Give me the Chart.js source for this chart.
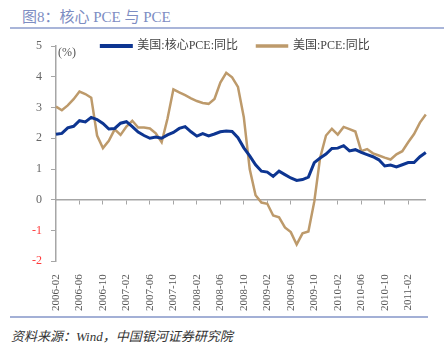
<!DOCTYPE html>
<html>
<head>
<meta charset="utf-8">
<script src="https://cdn.jsdelivr.net/npm/chart.js@4/dist/chart.umd.min.js"></script>
<style>
  body { margin: 0; width: 444px; height: 350px; background: #fff; position: relative; overflow: hidden; }
  #title { position: absolute; left: 22px; top: 5px; font: 15px "Liberation Serif", "Noto Sans CJK SC"; color: #7d8dc2; }
  #titleLine { position: absolute; left: 10px; top: 27px; width: 434px; height: 2px; background: #a9b5d9; }
  #wrap { position: absolute; left: 0; top: 21px; width: 444px; height: 295px; }
  #pct { position: absolute; left: 58px; top: 45px; font: 12px "Liberation Serif"; color: #555; }
  #bottomLine { position: absolute; left: 10px; top: 316px; width: 418px; height: 2px; background: #a3b0d6; }
  #source { position: absolute; left: 11px; top: 326px; font: italic 13px "Liberation Serif", "Noto Sans CJK SC"; color: #333; }
</style>
</head>
<body>
<div id="title">图8：核心 PCE 与 PCE</div>
<div id="titleLine"></div>
<div id="wrap"><canvas id="pceChart"></canvas></div>
<div id="pct">(%)</div>
<div id="bottomLine"></div>
<div id="source">资料来源：Wind，中国银河证券研究院</div>
<script>
const months = [
  "2006-02", "2006-03", "2006-04", "2006-05", "2006-06", "2006-07", "2006-08", "2006-09", "2006-10", "2006-11", "2006-12",
  "2007-01", "2007-02", "2007-03", "2007-04", "2007-05", "2007-06", "2007-07", "2007-08", "2007-09", "2007-10", "2007-11", "2007-12",
  "2008-01", "2008-02", "2008-03", "2008-04", "2008-05", "2008-06", "2008-07", "2008-08", "2008-09", "2008-10", "2008-11", "2008-12",
  "2009-01", "2009-02", "2009-03", "2009-04", "2009-05", "2009-06", "2009-07", "2009-08", "2009-09", "2009-10", "2009-11", "2009-12",
  "2010-01", "2010-02", "2010-03", "2010-04", "2010-05", "2010-06", "2010-07", "2010-08", "2010-09", "2010-10", "2010-11", "2010-12",
  "2011-01", "2011-02", "2011-03", "2011-04", "2011-05"
];

// 美国:核心PCE:同比
const corePce = [
  2.13, 2.16, 2.34, 2.39, 2.57, 2.53, 2.68, 2.61, 2.48, 2.30, 2.32,
  2.49, 2.54, 2.38, 2.20, 2.09, 2.00, 2.04, 2.00, 2.11, 2.19, 2.32, 2.38,
  2.21, 2.07, 2.15, 2.08, 2.14, 2.21, 2.24, 2.22, 2.02, 1.69, 1.43, 1.14,
  0.93, 0.90, 0.76, 0.93, 0.82, 0.71, 0.63, 0.66, 0.74, 1.21, 1.36, 1.49,
  1.67, 1.68, 1.76, 1.59, 1.63, 1.54, 1.47, 1.40, 1.30, 1.10, 1.13, 1.07,
  1.14, 1.21, 1.21, 1.40, 1.54
];

// 美国:PCE:同比
const pce = [
  3.03, 2.91, 3.07, 3.27, 3.52, 3.44, 3.32, 2.09, 1.68, 1.92, 2.29,
  2.11, 2.38, 2.57, 2.35, 2.35, 2.32, 2.16, 1.87, 2.64, 3.59, 3.49, 3.40,
  3.30, 3.21, 3.15, 3.12, 3.28, 3.81, 4.13, 3.98, 3.67, 2.68, 1.00, 0.15,
  -0.09, -0.13, -0.51, -0.57, -0.90, -1.05, -1.45, -1.09, -1.03, -0.06, 1.37, 2.09,
  2.31, 2.12, 2.37, 2.30, 2.22, 1.58, 1.65, 1.51, 1.44, 1.37, 1.31, 1.48,
  1.58, 1.87, 2.14, 2.51, 2.77
];

const serif = "'Liberation Serif', 'Noto Sans CJK SC', serif";
const axisGrey = "#a6a6a6";

// the legend sits on the top edge of the plot, so let it draw past its own box
const legendNudge = {
  id: "legendNudge",
  afterLayout(chart) {
    const lg = chart.legend;
    lg.left += 10;
    lg.right += 10;
    lg.bottom += 14;
  },
};

const ctx = document.getElementById("pceChart").getContext("2d");
const chart = new Chart(ctx, {
  type: "line",
  data: {
    labels: months,
    datasets: [
      {
        label: "美国:核心PCE:同比",
        data: corePce,
        borderColor: "#0d3591",
        backgroundColor: "#0d3591",
        borderWidth: 3,
        pointRadius: 0,
      },
      {
        label: "美国:PCE:同比",
        data: pce,
        borderColor: "#bd9a6b",
        backgroundColor: "#bd9a6b",
        borderWidth: 2.5,
        pointRadius: 0,
      },
    ],
  },
  plugins: [legendNudge],
  options: {
    responsive: true,
    maintainAspectRatio: false,
    animation: false,
    layout: {
      padding: { left: 23, right: 16, top: 0, bottom: 0 },
    },
    plugins: {
      tooltip: { enabled: false },
      legend: {
        position: "top",
        align: "center",
        maxHeight: 25,
        labels: {
          boxWidth: 30,
          boxHeight: 1,
          padding: 19,
          color: "#444",
          font: { family: serif, size: 12 },
        },
      },
    },
    scales: {
      x: {
        position: "bottom",
        offset: false,
        border: { display: false },
        grid: { display: false },
        ticks: {
          autoSkip: false,
          minRotation: 90,
          maxRotation: 90,
          padding: 5,
          color: "#555",
          font: { family: serif, size: 11 },
          callback: function (value, index) {
            return index % 4 === 0 ? months[index] : "";
          },
        },
      },
      x0: {
        type: "category",
        position: { y: 0 },
        offset: false,
        border: { display: true, color: axisGrey, width: 1.5 },
        grid: {
          drawOnChartArea: false,
          drawTicks: true,
          tickLength: 4,
          tickColor: function (c) {
            return c.index % 4 === 0 ? axisGrey : "rgba(0,0,0,0)";
          },
        },
        ticks: { display: false, autoSkip: false },
      },
      y: {
        min: -2,
        max: 5,
        border: { display: true, color: axisGrey, width: 1.5 },
        grid: {
          drawOnChartArea: false,
          drawTicks: true,
          tickLength: 5,
          tickColor: axisGrey,
        },
        ticks: {
          stepSize: 1,
          padding: 9,
          font: { family: serif, size: 12 },
          color: function (c) {
            return c.tick.value < 0 ? "#ff3b3b" : "#666";
          },
        },
      },
    },
  },
});
</script>
</body>
</html>
